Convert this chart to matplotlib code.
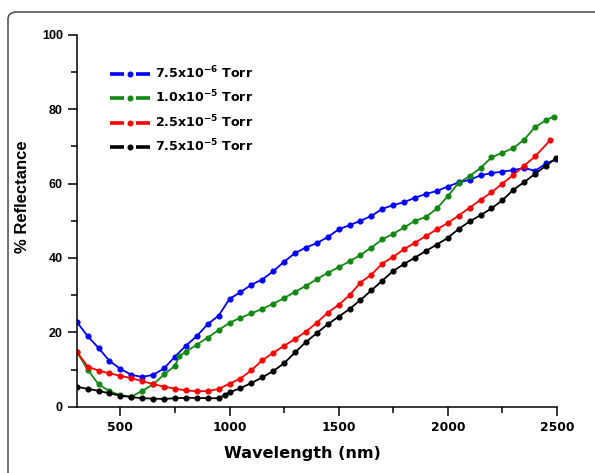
import matplotlib
matplotlib.use("Agg")
import matplotlib.pyplot as plt
from matplotlib.lines import Line2D
from matplotlib.patches import FancyBboxPatch
from matplotlib.ticker import MultipleLocator
from matplotlib.legend_handler import HandlerBase

plt.rcParams['mathtext.fontset'] = 'dejavusans'

# ---- data ----
wl_blue = [300, 350, 400, 450, 500, 550, 600, 650, 700, 750, 800, 850, 900, 950, 1000,
           1050, 1100, 1150, 1200, 1250, 1300, 1350, 1400, 1450, 1500, 1550, 1600, 1650,
           1700, 1750, 1800, 1850, 1900, 1950, 2000, 2050, 2100, 2150, 2200, 2250, 2300,
           2350, 2400, 2450, 2497]
r_blue = [22.8, 19.0, 15.8, 12.3, 10.2, 8.6, 8.0, 8.6, 10.3, 13.5, 16.4, 19.0, 22.2, 24.5, 29.0,
          30.8, 32.8, 34.2, 36.4, 39.0, 41.3, 42.8, 44.0, 45.6, 47.7, 48.8, 50.0, 51.3,
          53.2, 54.2, 55.0, 56.2, 57.2, 58.0, 59.2, 60.3, 61.0, 62.2, 62.8, 63.2, 63.6,
          64.2, 63.4, 65.4, 66.5]

wl_green = [300, 350, 400, 450, 500, 550, 600, 650, 700, 750, 770, 800, 850, 900, 950, 1000,
            1050, 1100, 1150, 1200, 1250, 1300, 1350, 1400, 1450, 1500, 1550, 1600, 1650,
            1700, 1750, 1800, 1850, 1900, 1950, 2000, 2050, 2100, 2150, 2200, 2250, 2300,
            2350, 2400, 2450, 2485]
r_green = [14.8, 10.0, 6.0, 4.2, 3.1, 2.7, 4.3, 6.0, 8.7, 11.0, 13.6, 14.8, 16.7, 18.6, 20.6, 22.6,
           23.9, 25.1, 26.3, 27.7, 29.2, 30.9, 32.5, 34.3, 36.0, 37.5, 39.1, 40.8, 42.8,
           45.0, 46.5, 48.2, 50.0, 51.0, 53.3, 56.6, 60.2, 62.0, 64.2, 67.0, 68.3, 69.5,
           71.8, 75.2, 77.0, 78.0]

wl_red = [300, 350, 400, 450, 500, 550, 600, 650, 700, 750, 800, 850, 900, 950, 1000,
          1050, 1100, 1150, 1200, 1250, 1300, 1350, 1400, 1450, 1500, 1550, 1600, 1650,
          1700, 1750, 1800, 1850, 1900, 1950, 2000, 2050, 2100, 2150, 2200, 2250, 2300,
          2350, 2400, 2470]
r_red = [14.8, 10.8, 9.7, 9.0, 8.3, 7.7, 6.9, 6.1, 5.4, 4.9, 4.4, 4.2, 4.2, 4.8, 6.2,
         7.6, 9.8, 12.5, 14.5, 16.4, 18.2, 20.2, 22.6, 25.3, 27.4, 30.0, 33.4, 35.5,
         38.5, 40.3, 42.4, 44.1, 45.9, 47.7, 49.4, 51.4, 53.5, 55.6, 57.6, 60.0, 62.3,
         64.8, 67.3, 71.7]

wl_black = [300, 350, 400, 450, 500, 550, 600, 650, 700, 750, 800, 850, 900, 950, 980, 1000,
            1050, 1100, 1150, 1200, 1250, 1300, 1350, 1400, 1450, 1500, 1550, 1600, 1650,
            1700, 1750, 1800, 1850, 1900, 1950, 2000, 2050, 2100, 2150, 2200, 2250, 2300,
            2350, 2400, 2450, 2497]
r_black = [5.4, 4.8, 4.3, 3.6, 3.0, 2.6, 2.3, 2.2, 2.1, 2.3, 2.4, 2.4, 2.3, 2.3, 3.2, 3.9,
           5.0, 6.4, 7.9, 9.6, 11.7, 14.6, 17.4, 19.8, 22.2, 24.2, 26.3, 28.7, 31.3,
           33.9, 36.5, 38.4, 40.1, 41.9, 43.6, 45.4, 47.8, 49.8, 51.5, 53.3, 55.5, 58.3,
           60.4, 62.6, 64.8, 66.8]

labels = [r"7.5x10$^{\mathbf{-6}}$ Torr", r"1.0x10$^{\mathbf{-5}}$ Torr",
          r"2.5x10$^{\mathbf{-5}}$ Torr", r"7.5x10$^{\mathbf{-5}}$ Torr"]
colors = ["#0000ff", "#118811", "#ff0000", "#000000"]
x_ticks = [500, 1000, 1500, 2000, 2500]
y_ticks = [0, 20, 40, 60, 80, 100]

series = [(wl_blue, r_blue), (wl_green, r_green), (wl_red, r_red), (wl_black, r_black)]


class DashDotHandler(HandlerBase):
    """Legend key drawn as: dash  dot  dash."""
    def create_artists(self, legend, orig_handle, xdescent, ydescent, width,
                       height, fontsize, trans):
        c = orig_handle.get_color()
        y = height / 2.0 - ydescent
        x0 = -xdescent
        l1 = Line2D([x0, x0 + width * 0.36], [y, y], color=c, lw=2.6,
                    solid_capstyle='butt', transform=trans)
        l2 = Line2D([x0 + width * 0.64, x0 + width], [y, y], color=c, lw=2.6,
                    solid_capstyle='butt', transform=trans)
        m = Line2D([x0 + width * 0.5], [y], color=c, marker='o', ms=3.3,
                   mfc=c, mec=c, linestyle='none', transform=trans)
        return [l1, l2, m]


fig = plt.figure(figsize=(5.95, 4.73), dpi=100)
ax = fig.add_axes([0.129, 0.140, 0.807, 0.7866])

handles = []
for (x, y), c in zip(series, colors):
    h, = ax.plot(x, y, color=c, lw=1.3, marker='o', ms=3.4, mec=c, mfc=c)
    handles.append(h)

ax.set_xlim(300, 2500)
ax.set_ylim(0, 100)
ax.set_xticks(x_ticks)
ax.set_yticks(y_ticks)
ax.xaxis.set_minor_locator(MultipleLocator(250))
ax.yaxis.set_minor_locator(MultipleLocator(10))
for s in ['top', 'right']:
    ax.spines[s].set_visible(False)
for s in ['left', 'bottom']:
    ax.spines[s].set_linewidth(1.1)
ax.tick_params(which='major', direction='out', length=6.5, width=1.1)
ax.tick_params(which='minor', direction='out', length=4, width=1.1)

for lab in ax.get_xticklabels():
    lab.set_fontfamily('DejaVu Sans')
    lab.set_fontweight('bold')
    lab.set_fontsize(8.8)
for lab in ax.get_yticklabels():
    lab.set_fontfamily('Liberation Sans')
    lab.set_fontweight('bold')
    lab.set_fontsize(9)

ax.set_xlabel("Wavelength (nm)", fontfamily='DejaVu Sans', fontweight='bold',
              fontsize=11.6)
ax.xaxis.set_label_coords(0.469, -0.105)
ax.set_ylabel("% Reflectance", fontfamily='Liberation Sans', fontweight='bold',
              fontsize=12)
ax.yaxis.set_label_coords(-0.097, 0.564)

leg = ax.legend(handles, labels, loc='upper left', bbox_to_anchor=(0.045, 0.95),
                frameon=False, handlelength=3.2, handletextpad=0.35, labelspacing=0.62,
                handler_map={Line2D: DashDotHandler()},
                prop={'family': 'DejaVu Sans', 'weight': 'bold', 'size': 9.1})

# outer rounded frame
frame = FancyBboxPatch((8 / 595, -0.05), 1.2, 1 - 12 / 473 + 0.05,
                       boxstyle="round,pad=0,rounding_size=0.015",
                       transform=fig.transFigure, fill=False,
                       edgecolor='#555555', lw=1.2, clip_on=False)
fig.patches.append(frame)

fig.savefig("out.png", dpi=100)
